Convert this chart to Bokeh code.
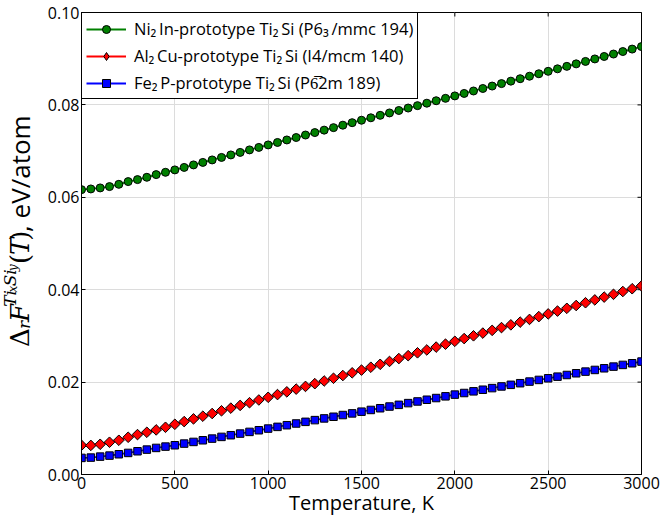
import math
from bokeh.plotting import figure
from bokeh.layouts import row
from bokeh.models import Range1d, Legend, LegendItem, FixedTicker
from bokeh.core.properties import value
from bokeh.embed import file_html
from bokeh.resources import INLINE

# ---------------- data ----------------
temperature = list(range(0, 3001, 50))

ni2in_ti2si = [
    0.06166, 0.06181, 0.06203, 0.06232, 0.06281, 0.06340, 0.06383, 0.06433, 0.06491, 0.06541, 0.06593,
    0.06647, 0.06701, 0.06755, 0.06809, 0.06863, 0.06917, 0.06972, 0.07026, 0.07080, 0.07134,
    0.07187, 0.07241, 0.07294, 0.07348, 0.07401, 0.07454, 0.07508, 0.07561, 0.07615, 0.07668,
    0.07721, 0.07774, 0.07826, 0.07879, 0.07932, 0.07984, 0.08037, 0.08090, 0.08142, 0.08195,
    0.08248, 0.08301, 0.08355, 0.08408, 0.08461, 0.08514, 0.08567, 0.08621, 0.08674, 0.08727,
    0.08781, 0.08834, 0.08888, 0.08941, 0.08995, 0.09048, 0.09101, 0.09155, 0.09208, 0.09262,
]
al2cu_ti2si = [
    0.00633, 0.00630, 0.00654, 0.00698, 0.00741, 0.00806, 0.00864, 0.00914, 0.00965, 0.01022, 0.01087,
    0.01145, 0.01204, 0.01262, 0.01320, 0.01379, 0.01437, 0.01496, 0.01554, 0.01613, 0.01671,
    0.01730, 0.01789, 0.01848, 0.01907, 0.01966, 0.02024, 0.02083, 0.02142, 0.02201, 0.02260,
    0.02322, 0.02385, 0.02447, 0.02509, 0.02572, 0.02634, 0.02696, 0.02758, 0.02821, 0.02883,
    0.02942, 0.03002, 0.03061, 0.03120, 0.03180, 0.03239, 0.03298, 0.03357, 0.03417, 0.03476,
    0.03537, 0.03597, 0.03658, 0.03718, 0.03779, 0.03840, 0.03900, 0.03961, 0.04021, 0.04082,
]
fe2p_ti2si = [
    0.00359, 0.00366, 0.00387, 0.00409, 0.00438, 0.00467, 0.00503, 0.00539, 0.00575, 0.00604, 0.00633,
    0.00669, 0.00705, 0.00741, 0.00777, 0.00814, 0.00850, 0.00886, 0.00922, 0.00958, 0.00994,
    0.01031, 0.01067, 0.01104, 0.01140, 0.01177, 0.01214, 0.01250, 0.01287, 0.01323, 0.01360,
    0.01397, 0.01434, 0.01471, 0.01508, 0.01545, 0.01581, 0.01618, 0.01655, 0.01692, 0.01729,
    0.01764, 0.01800, 0.01835, 0.01870, 0.01906, 0.01941, 0.01976, 0.02011, 0.02047, 0.02082,
    0.02118, 0.02154, 0.02191, 0.02227, 0.02263, 0.02299, 0.02335, 0.02372, 0.02408, 0.02444,
]

series_labels = [
    "Ni\u2082\u2009In-prototype Ti\u2082\u2009Si (P6\u2083\u2009/mmc 194)",
    "Al\u2082\u2009Cu-prototype Ti\u2082\u2009Si (I4/mcm 140)",
    "Fe\u2082\u2009P-prototype Ti\u2082\u2009Si (P6\u03052m 189)",
]
x_ticks = [0, 500, 1000, 1500, 2000, 2500, 3000]
y_ticks = [0.0, 0.02, 0.04, 0.06, 0.08, 0.10]
y_tick_labels = ["0.00", "0.02", "0.04", "0.06", "0.08", "0.10"]
x_label = "Temperature, K"

# ---------------- layout constants ----------------
W, H = 663, 518
LW = 44                     # width of the strip holding the rotated y-axis title
L, R, T, B = 80, 22, 12, 44
X0, X1, Y0, Y1 = 0, 3000, 0.0, 0.1
SANS = "Open Sans"
SERIF = "DejaVu Serif"

# ---------------- main figure ----------------
p = figure(width=W - LW, height=H, output_backend="svg", toolbar_location=None,
           x_range=Range1d(X0, X1), y_range=Range1d(Y0, Y1),
           min_border_left=L - LW, min_border_right=R, min_border_top=T, min_border_bottom=B,
           background_fill_color="white", border_fill_color="white")
p.outline_line_color = "black"
p.outline_line_width = 1
p.outline_line_alpha = 1

for ax, ticks in ((p.xaxis[0], x_ticks), (p.yaxis[0], y_ticks)):
    ax.ticker = FixedTicker(ticks=ticks)
    ax.major_tick_in = 4
    ax.major_tick_out = 0
    ax.minor_tick_line_color = None
    ax.axis_line_color = "black"
    ax.major_tick_line_color = "black"
    ax.major_label_text_font = SANS
    ax.major_label_text_font_size = "16px"
    ax.major_label_text_color = "black"
    ax.major_label_standoff = 2
p.yaxis[0].major_label_overrides = {t: s for t, s in zip(y_ticks, y_tick_labels)}
p.xaxis[0].axis_label = x_label
p.xaxis[0].axis_label_text_font = SANS
p.xaxis[0].axis_label_text_font_size = "20px"
p.xaxis[0].axis_label_text_font_style = "normal"
p.xaxis[0].axis_label_text_color = "black"
p.xaxis[0].axis_label_standoff = -3

p.xgrid.ticker = FixedTicker(ticks=x_ticks)
p.ygrid.ticker = FixedTicker(ticks=y_ticks)
p.grid.grid_line_color = "#dcdcdc"
p.grid.grid_line_width = 1

# inward tick marks on the top and right frame edges (half of each dash is clipped)
p.scatter(x=[X1] * len(y_ticks), y=y_ticks, marker="dash", size=8, line_color="black", line_width=1)
p.scatter(x=x_ticks, y=[Y1] * len(x_ticks), marker="dash", size=8, angle=math.pi / 2,
          line_color="black", line_width=1)

# ---------------- series ----------------
items = []
specs = [
    (ni2in_ti2si, "#008000", "circle", 8, 0.0, "circle", 8),
    (al2cu_ti2si, "#ff0000", "square", 7.5, math.pi / 4, "diamond", 12),
    (fe2p_ti2si, "#0000ff", "square", 7.5, 0.0, "square", 7.5),
]
for (vals, col, mk, sz, ang, lmk, lsz), lab in zip(specs, series_labels):
    ln = p.line(temperature, vals, line_color=col, line_width=1.8)
    sc = p.scatter(temperature, vals, marker=mk, size=sz, angle=ang,
                   fill_color=col, line_color="black", line_width=1)
    if lmk == mk and ang == 0.0:
        legend_marker = sc
    else:
        legend_marker = p.scatter(x=[float("nan")], y=[float("nan")], marker=lmk, size=lsz,
                                  fill_color=col, line_color="black", line_width=1)
    items.append(LegendItem(label=lab, renderers=[ln, legend_marker]))

legend = Legend(items=items, location="top_left", margin=0, padding=4, spacing=4,
                label_height=20, glyph_height=20, glyph_width=40, label_standoff=8,
                border_line_color="black", border_line_width=1, border_line_alpha=1,
                background_fill_color="white", background_fill_alpha=1,
                label_text_font=SANS, label_text_font_size="16.5px", label_text_color="black")
p.add_layout(legend)

# ---------------- rotated y-axis title in a narrow strip ----------------
s = figure(width=LW, height=H, output_backend="svg", toolbar_location=None,
           x_range=Range1d(0, LW), y_range=Range1d(0, H),
           min_border=0, x_axis_type=None, y_axis_type=None,
           background_fill_color="white", border_fill_color="white")
s.outline_line_color = None
s.grid.visible = False

DX, DY = -13, 23   # empirical correction of the rotated-text anchor
pieces = [
    # text, baseline x (px), start y (px from top), font, size, style
    ("\u0394", 32, 352, SERIF, 26, "normal"),
    ("r", 36, 332, SERIF, 17, "italic"),
    ("F", 32, 324, SERIF, 26, "italic"),
    ("Ti", 22, 307, SERIF, 17, "italic"),
    ("x", 25, 291, SERIF, 12, "italic"),
    ("Si", 22, 284, SERIF, 17, "italic"),
    ("y", 25, 267, SERIF, 12, "italic"),
    ("(", 32, 259, SERIF, 26, "normal"),
    ("T", 32, 249, SERIF, 26, "italic"),
    (")", 32, 233, SERIF, 26, "normal"),
    (", eV/atom", 32, 223, SANS, 26, "normal"),
]
for txt, px, py, font, size, style in pieces:
    s.text(x=[px + DX], y=[H - (py + DY)], text=[txt], angle=math.pi / 2, text_align="left",
           text_baseline="alphabetic", text_font=value(font),
           text_font_size=value(f"{size}px"), text_font_style=style, text_color="black")

layout = row(s, p, spacing=0)
open("out.html", "w").write(file_html(layout, INLINE))
